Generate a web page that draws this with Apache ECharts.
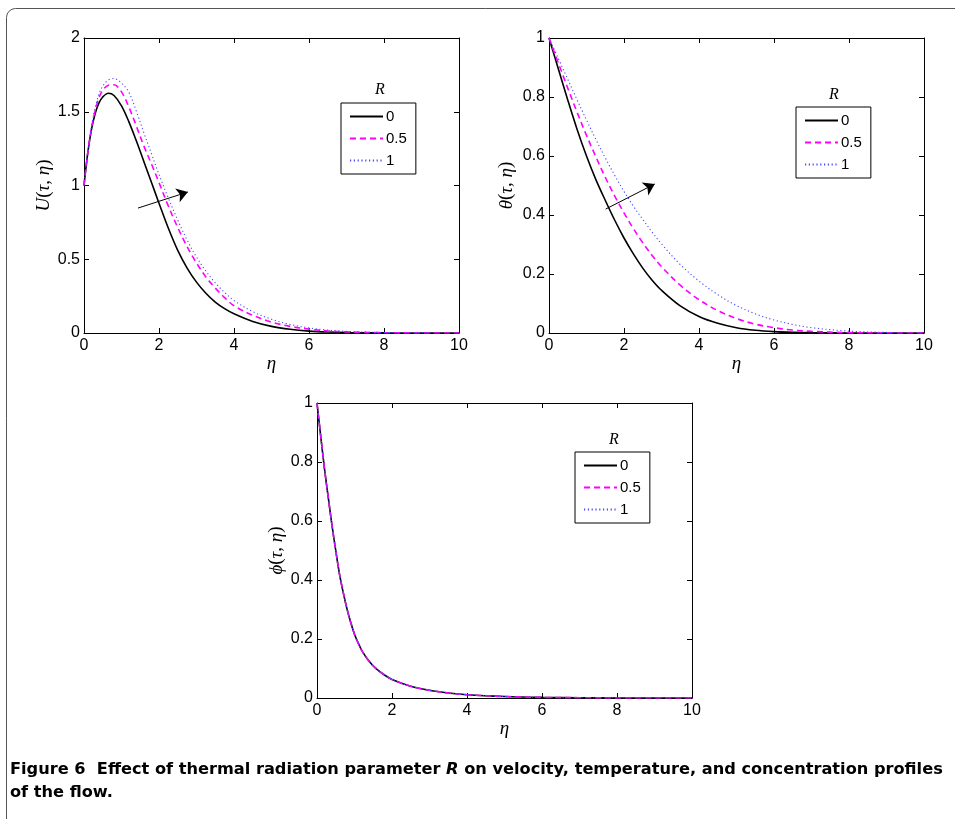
<!DOCTYPE html>
<html><head><meta charset="utf-8">
<script src="https://cdn.jsdelivr.net/npm/echarts@6/dist/echarts.min.js"></script>
<style>html,body{margin:0;padding:0;background:#fff}#c{width:955px;height:819px}</style>
</head><body><div id="c"></div>
<script>
// ---- Data ----
const seriesNames = ['0', '0.5', '1'];
const xTicks = [0, 2, 4, 6, 8, 10];

// Panel 1: U(tau, eta)
const etaU   = [0,0.1,0.2,0.3,0.4,0.5,0.65,0.8,1.0,1.2,1.4,1.6,1.8,2.0,2.25,2.5,2.75,3.0,3.25,3.5,3.75,4.0,4.5,5.0,5.5,6.0,6.5,7.0,8.0,9.0,10.0];
const uR0    = [1.0,1.22,1.38,1.49,1.56,1.60,1.625,1.61,1.54,1.43,1.30,1.16,1.02,0.88,0.71,0.56,0.44,0.345,0.27,0.21,0.165,0.13,0.078,0.045,0.025,0.013,0.0065,0.003,0.0007,0.0001,0];
const uR05   = [1.0,1.22,1.39,1.51,1.595,1.645,1.68,1.683,1.635,1.53,1.40,1.265,1.145,1.02,0.86,0.715,0.585,0.475,0.38,0.305,0.24,0.185,0.12,0.074,0.045,0.026,0.014,0.0075,0.002,0.0004,0];
const uR1    = [1.0,1.22,1.40,1.53,1.62,1.675,1.715,1.725,1.695,1.63,1.50,1.355,1.215,1.075,0.915,0.765,0.63,0.515,0.42,0.34,0.275,0.22,0.145,0.093,0.058,0.035,0.02,0.011,0.003,0.0007,0];

// Panel 2: theta(tau, eta)
const etaT   = [0,0.25,0.5,0.75,1.0,1.25,1.5,1.75,2.0,2.25,2.5,2.75,3.0,3.5,4.0,4.5,5.0,5.5,6.0,6.5,7.0,8.0,9.0,10.0];
const tR0    = [1.0,0.895,0.79,0.69,0.60,0.52,0.45,0.383,0.322,0.268,0.22,0.179,0.145,0.092,0.056,0.033,0.018,0.0095,0.0048,0.0023,0.001,0.0002,0,0];
const tR05   = [1.0,0.915,0.83,0.748,0.67,0.597,0.528,0.465,0.407,0.354,0.306,0.263,0.225,0.162,0.113,0.076,0.049,0.030,0.018,0.010,0.0055,0.0014,0.0003,0];
const tR1    = [1.0,0.93,0.86,0.79,0.722,0.656,0.594,0.535,0.48,0.43,0.385,0.342,0.302,0.232,0.176,0.13,0.093,0.065,0.044,0.029,0.018,0.0065,0.002,0.0003];

// Panel 3: phi(tau, eta)
const etaP   = [0,0.1,0.2,0.3,0.4,0.5,0.6,0.7,0.8,0.9,1.0,1.1,1.2,1.4,1.6,1.8,2.0,2.5,3.0,3.5,4.0,5.0,6.0,7.0,8.0,10.0];
const pR0    = [1.0,0.887,0.777,0.68,0.585,0.50,0.42,0.357,0.302,0.256,0.216,0.186,0.16,0.123,0.097,0.078,0.063,0.04,0.026,0.017,0.011,0.005,0.002,0.001,0,0];
const pR05   = [1.0,0.887,0.777,0.68,0.585,0.50,0.42,0.357,0.302,0.256,0.216,0.186,0.16,0.123,0.097,0.078,0.063,0.04,0.026,0.017,0.011,0.005,0.002,0.001,0,0];
const pR1    = [1.0,0.887,0.777,0.68,0.585,0.50,0.42,0.357,0.302,0.256,0.216,0.186,0.16,0.123,0.097,0.078,0.063,0.04,0.026,0.017,0.011,0.005,0.002,0.001,0,0];

// Arrows (data coordinates)
const arrowU = [[1.44, 0.847], [2.77, 0.956]];
const arrowT = [[1.51, 0.42], [2.82, 0.505]];

const caption1 = 'Figure 6  Effect of thermal radiation parameter ';
const caption2 = ' on velocity, temperature, and concentration profiles';
const caption3 = 'of the flow.';

// ---- Styles ----
const LBL = 'Liberation Sans, Arial, sans-serif';
const SERIF = 'Liberation Serif, DejaVu Serif, serif';
const CAP = 'DejaVu Sans, sans-serif';
const styles = [
  {color: '#000000', width: 1.6, type: 'solid'},
  {color: '#ff00ff', width: 1.6, type: [6, 4]},
  {color: '#4a4aff', width: 1.1, type: [1.2, 2.6]}
];

function zip(xs, ys) { return xs.map((x, i) => [x, ys[i]]); }

const grids = [
  {left: 84, top: 38, width: 375, height: 295},
  {left: 549, top: 38, width: 375, height: 295},
  {left: 317, top: 403, width: 375, height: 295}
];
const yCfg = [
  {max: 2, interval: 0.5, name: '{it|U}{up|(}{it|τ}{up|, }{it|η}{up|)}', gap: 29},
  {max: 1, interval: 0.2, name: '{it|θ}{up|(}{it|τ}{up|, }{it|η}{up|)}', gap: 33},
  {max: 1, interval: 0.2, name: '{it|ϕ}{up|(}{it|τ}{up|, }{it|η}{up|)}', gap: 31}
];
const nameRich = {
  it: {fontFamily: SERIF, fontStyle: 'italic', fontSize: 19, color: '#000'},
  up: {fontFamily: SERIF, fontSize: 19, color: '#000'}
};

const xAxes = [], yAxes = [];
grids.forEach((g, i) => {
  const common = {type: 'value', gridIndex: i, splitLine: {show: false},
    axisLine: {show: true, onZero: false, lineStyle: {color: '#000', width: 1}},
    axisTick: {show: true, inside: true, length: 5, lineStyle: {color: '#000'}}};
  xAxes.push(Object.assign({}, common, {position: 'bottom', min: 0, max: 10, interval: 2,
    axisLabel: {color: '#000', fontFamily: LBL, fontSize: 16, margin: 5},
    name: 'η', nameLocation: 'middle', nameGap: 14,
    nameTextStyle: {fontFamily: SERIF, fontStyle: 'italic', fontSize: 19, color: '#000'}}));
  xAxes.push(Object.assign({}, common, {position: 'top', min: 0, max: 10, interval: 2,
    axisLabel: {show: false}}));
  yAxes.push(Object.assign({}, common, {position: 'left', min: 0, max: yCfg[i].max, interval: yCfg[i].interval,
    axisLabel: {color: '#000', fontFamily: LBL, fontSize: 16, margin: 4},
    name: yCfg[i].name, nameLocation: 'middle', nameRotate: 90, nameGap: yCfg[i].gap,
    nameTextStyle: {rich: nameRich}}));
  yAxes.push(Object.assign({}, common, {position: 'right', min: 0, max: yCfg[i].max, interval: yCfg[i].interval,
    axisLabel: {show: false}}));
});

const panels = [
  {eta: etaU, ys: [uR0, uR05, uR1], arrow: arrowU},
  {eta: etaT, ys: [tR0, tR05, tR1], arrow: arrowT},
  {eta: etaP, ys: [pR0, pR05, pR1], arrow: null}
];
const series = [];
panels.forEach((p, i) => {
  p.ys.forEach((y, k) => {
    const s = {
      type: 'line', name: seriesNames[k], xAxisIndex: 2 * i, yAxisIndex: 2 * i,
      data: zip(p.eta, y), symbol: 'none', smooth: 0.35,
      lineStyle: styles[k], itemStyle: {color: styles[k].color}, z: 2 + k, silent: true
    };
    if (k === 0 && p.arrow) {
      s.markLine = {silent: true, symbol: ['none', 'arrow'], symbolSize: 11,
        lineStyle: {color: '#000', type: 'solid', width: 1}, label: {show: false},
        data: [[{coord: p.arrow[0]}, {coord: p.arrow[1]}]]};
    }
    series.push(s);
  });
});

const legendPos = [{left: 341, top: 103}, {left: 796, top: 107}, {left: 575, top: 452}];
const legends = legendPos.map(pos => ({
  left: pos.left, top: pos.top, orient: 'vertical', data: seriesNames, selectedMode: false,
  itemWidth: 33, itemHeight: 14, itemGap: 7, padding: [6, 9, 6, 8],
  borderColor: '#000', borderWidth: 1, backgroundColor: '#fff',
  itemStyle: {opacity: 0},
  textStyle: {fontFamily: LBL, fontSize: 15, color: '#000', padding: [0, 0, 0, -2]}
}));
const titles = [{left: 375, top: 82}, {left: 829, top: 87}, {left: 609, top: 432}].map(pos => ({
  text: 'R', left: pos.left, top: pos.top, padding: 0,
  textStyle: {fontFamily: SERIF, fontStyle: 'italic', fontWeight: 'normal', fontSize: 16, color: '#000'}
}));

const chart = echarts.init(document.getElementById('c'), null, {renderer: 'canvas'});
chart.setOption({
  animation: false,
  backgroundColor: '#fff',
  grid: grids.map(g => Object.assign({containLabel: false}, g)),
  xAxis: xAxes, yAxis: yAxes, series: series, legend: legends, title: titles,
  graphic: [
    {type: 'rect', shape: {x: 6.5, y: 8.5, width: 1000, height: 900, r: 9},
     style: {fill: 'none', stroke: '#555', lineWidth: 1}, silent: true, z: -10},
    {type: 'text', left: 10, top: 762, silent: true,
     style: {text: '{b|' + caption1 + '}{bi|R}{b|' + caption2 + '}\n{b|' + caption3 + '}',
       rich: {b: {fontFamily: CAP, fontWeight: 'bold', fontSize: 16.2, color: '#000', lineHeight: 23},
              bi: {fontFamily: CAP, fontWeight: 'bold', fontStyle: 'italic', fontSize: 16.2, color: '#000', lineHeight: 23}}}}
  ]
});
</script></body></html>
